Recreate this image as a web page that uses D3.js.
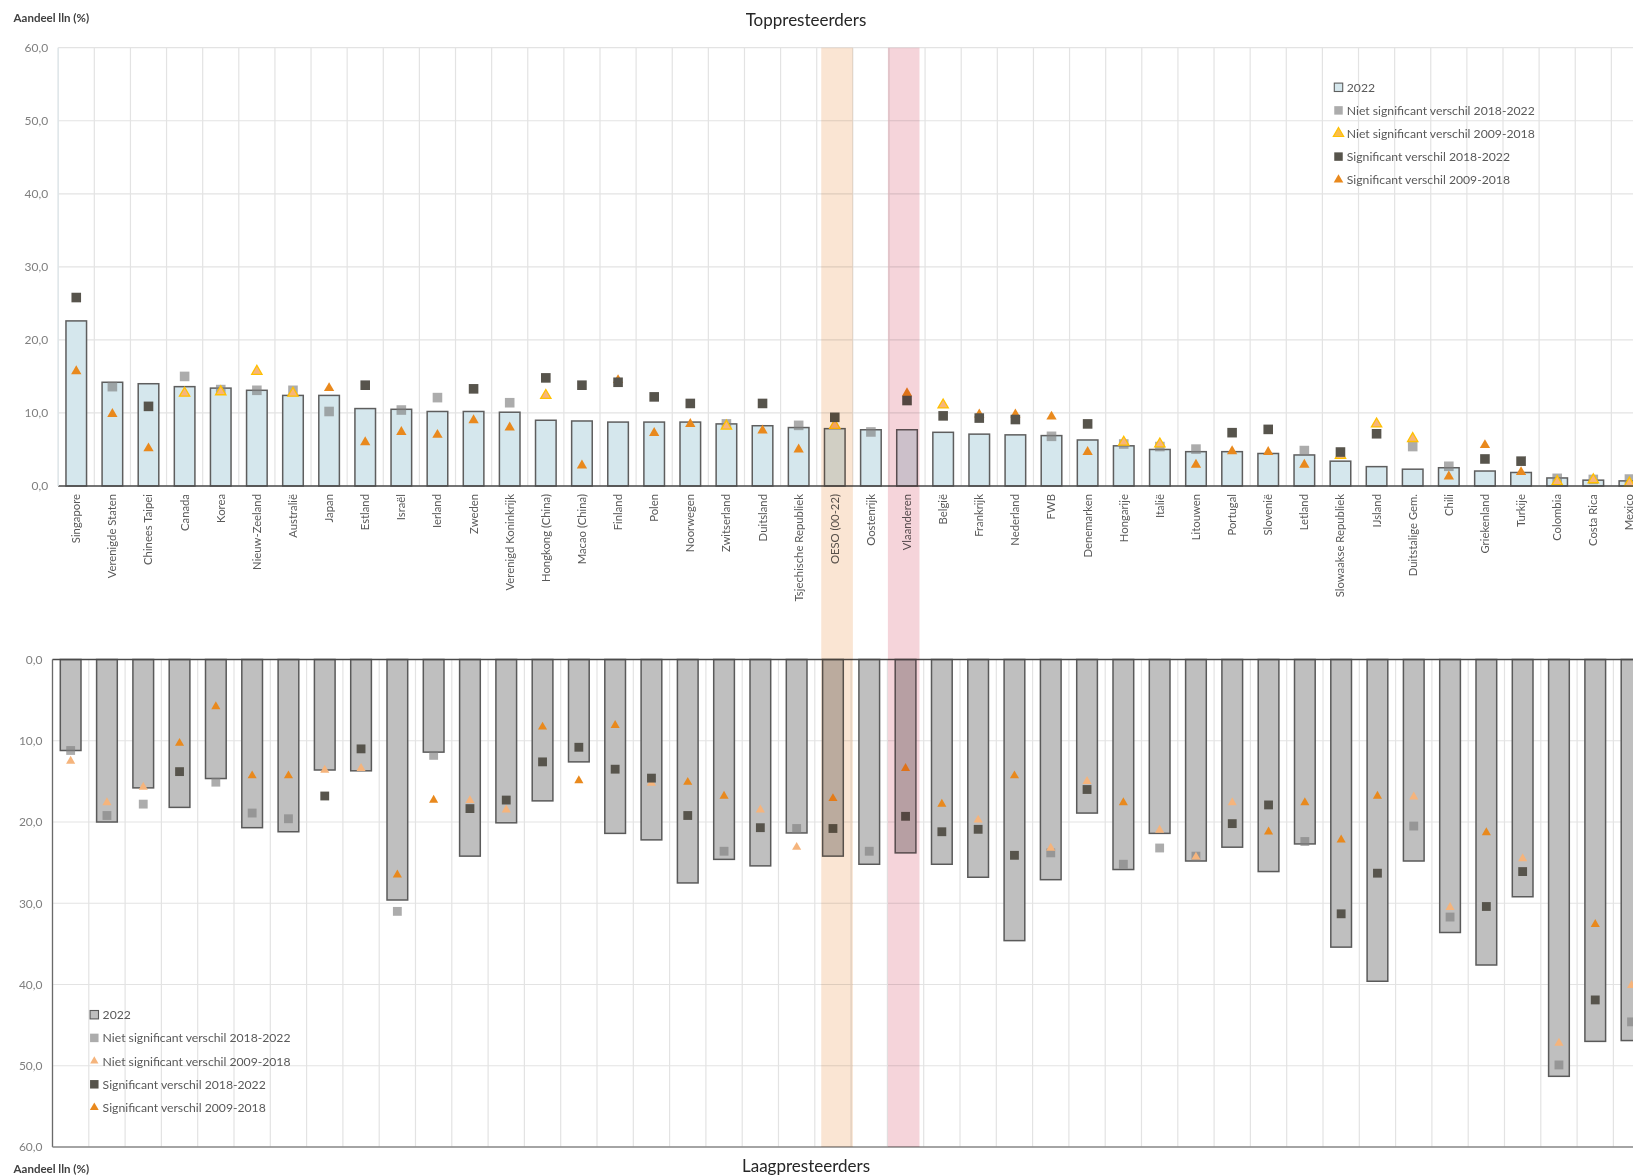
<!DOCTYPE html>
<html>
<head>
<meta charset="utf-8">
<script src="https://cdn.jsdelivr.net/npm/d3@7"></script>
<style>
  html, body { margin: 0; padding: 0; background: #fff; }
  svg { display: block; font-family: Lato, "Open Sans", sans-serif; }
</style>
</head>
<body>
<svg id="chart" width="1633" height="1176"></svg>
<script>
// ---------------- DATA ----------------
const categories = ["Singapore","Verenigde Staten","Chinees Taipei","Canada","Korea","Nieuw-Zeeland","Australië","Japan","Estland","Israël","Ierland","Zweden","Verenigd Koninkrijk","Hongkong (China)","Macao (China)","Finland","Polen","Noorwegen","Zwitserland","Duitsland","Tsjechische Republiek","OESO (00-22)","Oostenrijk","Vlaanderen","België","Frankrijk","Nederland","FWB","Denemarken","Hongarije","Italië","Litouwen","Portugal","Slovenië","Letland","Slowaakse Republiek","IJsland","Duitstalige Gem.","Chili","Griekenland","Turkije","Colombia","Costa Rica","Mexico"];

const highlighted = ["OESO (00-22)", "Vlaanderen"];
const yTicks = [0, 10, 20, 30, 40, 50, 60];

// Toppresteerders
const top2022     = [22.6,14.2,14.0,13.6,13.4,13.1,12.4,12.4,10.6,10.5,10.2,10.2,10.1,9.0,8.9,8.75,8.75,8.75,8.5,8.25,8.0,7.85,7.7,7.7,7.35,7.1,7.0,6.9,6.3,5.5,5.0,4.7,4.7,4.45,4.25,3.4,2.65,2.3,2.5,2.05,1.85,1.1,0.8,0.7];
const topNS1822   = [null,13.6,null,15.0,13.2,13.1,13.1,10.2,null,10.4,12.1,null,11.4,null,null,null,null,null,8.5,null,8.3,null,7.4,null,null,null,null,6.8,null,5.75,5.4,5.05,null,null,4.85,null,null,5.4,2.7,null,null,1.05,0.9,0.95];
const topNS0918   = [null,null,null,12.7,12.9,15.7,12.7,null,null,null,null,null,null,12.4,null,null,null,null,8.2,null,null,8.3,null,null,11.1,null,null,null,null,6.0,5.75,null,null,null,null,4.2,8.5,6.5,null,null,null,0.6,0.85,0.4];
const topS1822    = [25.8,null,10.9,null,null,null,null,null,13.8,null,null,13.3,null,14.8,13.8,14.2,12.2,11.3,null,11.3,null,9.4,null,11.7,9.6,9.3,9.1,null,8.5,null,null,null,7.3,7.75,null,4.65,7.15,null,null,3.7,3.4,null,null,null];
const topS0918    = [15.7,9.85,5.15,null,null,null,null,13.4,6.0,7.4,7.0,9.0,8.0,null,2.8,14.5,7.25,8.5,null,7.6,5.0,null,null,12.7,null,9.8,9.8,9.5,4.65,null,null,2.9,4.75,4.65,2.9,null,null,null,1.3,5.6,1.9,null,null,null];

// Laagpresteerders
const low2022     = [11.2,20.0,15.8,18.2,14.65,20.7,21.2,13.6,13.7,29.6,11.4,24.2,20.1,17.4,12.6,21.4,22.2,27.5,24.6,25.4,21.35,24.2,25.2,23.8,25.2,26.8,34.6,27.1,18.9,25.85,21.4,24.8,23.1,26.1,22.7,35.4,39.6,24.8,33.6,37.6,29.2,51.3,47.0,46.9];
const lowNS1822   = [11.2,19.2,17.8,null,15.1,18.9,19.6,null,null,31.0,11.8,null,null,null,null,null,null,null,23.6,null,20.8,null,23.6,null,null,null,null,23.8,null,25.2,23.2,24.2,null,null,22.4,null,null,20.5,31.7,null,null,49.9,null,44.6];
const lowNS0918   = [12.5,17.6,15.7,null,null,null,null,13.6,13.4,null,null,17.35,18.5,null,null,null,15.2,null,null,18.5,23.1,null,null,null,null,19.75,null,23.2,15.0,null,21.0,24.3,17.6,null,null,null,null,16.9,30.5,null,24.5,47.2,null,40.1];
const lowS1822    = [null,null,null,13.8,null,null,null,16.8,11.0,null,null,18.35,17.3,12.6,10.8,13.5,14.6,19.2,null,20.7,null,20.8,null,19.3,21.2,20.9,24.1,null,16.0,null,null,null,20.2,17.9,null,31.3,26.3,null,null,30.4,26.1,null,41.9,null];
const lowS0918    = [null,null,null,10.3,5.8,14.3,14.3,null,null,26.5,17.3,null,null,8.3,14.9,8.1,null,15.1,16.8,null,null,17.1,null,13.4,17.8,null,14.3,null,null,17.6,null,null,null,21.2,17.6,22.2,16.8,null,null,21.3,null,null,32.6,null];

const legendLabels = ["2022","Niet significant verschil 2018-2022","Niet significant verschil 2009-2018","Significant verschil 2018-2022","Significant verschil 2009-2018"];

// ---------------- STYLE ----------------
const C = {
  barTop: "#d5e7ed", barTopStroke: "#5e5e5e",
  barLow: "#bfbfbf", barLowStroke: "#5a5a5a",
  nsSq: "#7f7f7f", nsSqOp: 0.65,
  sSq: "#57544c",
  nsTriTopFill: "#f7b57a", nsTriTopStroke: "#ffc000",
  nsTriLow: "#f5b47c",
  sTri: "#e9891d",
  grid: "#e3e3e3",
  text: "#595959", tick: "#7f7f7f",
  bandOESO: "#fae5d3", bandVL: "#f5d4da"
};
const fmt = d => d3.format(".1f")(d).replace(".", ",");

const svg = d3.select("#chart");
svg.append("rect").attr("width", 1633).attr("height", 1176).attr("fill", "#fff");

const n = categories.length;
const topStep = 36.12, lowStep = 36.3;
const xT = d3.scaleBand().domain(categories).range([58.2, 58.2 + n * topStep]).paddingInner(0.43).paddingOuter(0.215);
const xB = d3.scaleBand().domain(categories).range([52.5, 52.5 + n * lowStep]).paddingInner(0.43).paddingOuter(0.215);
const yT = d3.scaleLinear().domain([0, 60]).range([486, 47.7]);
const yB = d3.scaleLinear().domain([0, 60]).range([659.5, 1147]);

function panel(opts) {
  const { x, y, bars, ns1822, ns0918, s1822, s0918, low } = opts;
  const g = svg.append("g");
  const x0 = x.range()[0], x1 = x.range()[1];
  const step = x.step();
  g.append("g").selectAll("line").data(yTicks).join("line")
    .attr("x1", x0).attr("x2", x1).attr("y1", d => y(d)).attr("y2", d => y(d))
    .attr("stroke", C.grid).attr("stroke-width", 1.2);
  const bounds = d3.range(n + 1).map(i => x0 + i * step);
  g.append("g").selectAll("line").data(bounds).join("line")
    .attr("x1", d => d).attr("x2", d => d).attr("y1", y(0)).attr("y2", y(60))
    .attr("stroke", C.grid).attr("stroke-width", 1.2);
  const ax = g.append("g").attr("transform", `translate(${x0},0)`)
    .call(d3.axisLeft(y).tickValues(yTicks).tickSize(0).tickPadding(10).tickFormat(fmt));
  ax.select(".domain").remove();
  ax.selectAll("text").attr("fill", C.tick).style("font-size", "12px").style("font-family", "Lato, sans-serif");

  g.append("g").selectAll("rect").data(categories).join("rect")
    .attr("x", d => x(d))
    .attr("width", x.bandwidth())
    .attr("y", (d, i) => Math.min(y(bars[i]), y(0)))
    .attr("height", (d, i) => Math.abs(y(bars[i]) - y(0)))
    .attr("fill", low ? C.barLow : C.barTop)
    .attr("stroke", low ? C.barLowStroke : C.barTopStroke)
    .attr("stroke-width", 1.5);

  const sqSize = low ? 78 : 92;
  const triSize = low ? 36 : 46;
  const sq = d3.symbol().type(d3.symbolSquare).size(sqSize);
  const tri = d3.symbol().type(d3.symbolTriangle).size(triSize);
  const cx = c => x(c) + x.bandwidth() / 2;
  function markers(vals, sym, attrs) {
    const data = categories.map((c, i) => ({ c, v: vals[i] })).filter(d => d.v != null);
    const sel = g.append("g").selectAll("path").data(data).join("path")
      .attr("d", sym)
      .attr("transform", d => `translate(${cx(d.c)},${y(d.v)})`);
    Object.entries(attrs).forEach(([k, v]) => sel.attr(k, v));
  }
  markers(ns1822, sq, { fill: C.nsSq, "fill-opacity": C.nsSqOp });
  if (low) markers(ns0918, tri, { fill: C.nsTriLow });
  else markers(ns0918, tri, { fill: C.nsTriTopFill, stroke: C.nsTriTopStroke, "stroke-width": 1.3 });
  markers(s0918, tri, { fill: C.sTri });
  markers(s1822, sq, { fill: C.sSq });

  g.append("line").attr("x1", x0).attr("x2", x1).attr("y1", y(0)).attr("y2", y(0))
    .attr("stroke", "#4a4a4a").attr("stroke-width", 1.5);
  if (low) {
    g.append("line").attr("x1", x0).attr("x2", x0).attr("y1", y(0)).attr("y2", y(60))
      .attr("stroke", "#6a6a6a").attr("stroke-width", 1.3);
    g.append("line").attr("x1", x0).attr("x2", x1).attr("y1", y(60)).attr("y2", y(60))
      .attr("stroke", "#8a8a8a").attr("stroke-width", 1.3);
  } else {
    g.append("line").attr("x1", x0).attr("x2", x0).attr("y1", y(0)).attr("y2", y(60))
      .attr("stroke", "#dde6ea").attr("stroke-width", 1.2);
  }
  return g;
}

panel({ x: xT, y: yT, bars: top2022, ns1822: topNS1822, ns0918: topNS0918, s1822: topS1822, s0918: topS0918, low: false });
panel({ x: xB, y: yB, bars: low2022, ns1822: lowNS1822, ns0918: lowNS0918, s1822: lowS1822, s0918: lowS0918, low: true });

// category labels (top chart)
svg.append("g").selectAll("text").data(categories).join("text")
  .attr("transform", d => `translate(${xT(d) + xT.bandwidth() / 2},494) rotate(-90)`)
  .attr("text-anchor", "end").attr("dy", "0.35em")
  .attr("fill", C.text).style("font-size", "11.3px")
  .text(d => d);

// titles
svg.append("text").attr("x", 806).attr("y", 25.5).attr("text-anchor", "middle")
  .attr("fill", "#262626").style("font-size", "17px").text("Toppresteerders");
svg.append("text").attr("x", 806).attr("y", 1172).attr("text-anchor", "middle")
  .attr("fill", "#262626").style("font-size", "17px").text("Laagpresteerders");
svg.append("text").attr("x", 13.6).attr("y", 22).attr("fill", "#404040")
  .style("font-size", "11.5px").style("font-weight", "bold").text("Aandeel lln (%)");
svg.append("text").attr("x", 13.6).attr("y", 1173).attr("fill", "#404040")
  .style("font-size", "11.5px").style("font-weight", "bold").text("Aandeel lln (%)");

// legends
function legend(x, y0, dy, low) {
  const g = svg.append("g");
  const sym = [
    g => g.append("rect").attr("x", -4.2).attr("y", -4.2).attr("width", 8.4).attr("height", 8.4)
          .attr("fill", low ? C.barLow : C.barTop).attr("stroke", low ? C.barLowStroke : C.barTopStroke).attr("stroke-width", 1.1),
    g => g.append("path").attr("d", d3.symbol().type(d3.symbolSquare).size(72)()).attr("fill", C.nsSq).attr("fill-opacity", C.nsSqOp),
    g => low
      ? g.append("path").attr("d", d3.symbol().type(d3.symbolTriangle).size(30)()).attr("fill", C.nsTriLow)
      : g.append("path").attr("d", d3.symbol().type(d3.symbolTriangle).size(46)()).attr("fill", "#fbbd4a").attr("stroke", C.nsTriTopStroke).attr("stroke-width", 1.2),
    g => g.append("path").attr("d", d3.symbol().type(d3.symbolSquare).size(72)()).attr("fill", C.sSq),
    g => g.append("path").attr("d", d3.symbol().type(d3.symbolTriangle).size(low ? 34 : 40)()).attr("fill", C.sTri)
  ];
  legendLabels.forEach((lab, i) => {
    const row = g.append("g").attr("transform", `translate(${x},${y0 + i * dy})`);
    sym[i](row);
    row.append("text").attr("x", 8.3).attr("dy", "0.36em").attr("fill", C.text)
      .style("font-size", "12.2px").text(lab);
  });
}
legend(1338.5, 87.3, 23.1, false);
legend(94.3, 1014.7, 23.2, true);

// highlight bands (multiply over everything)
const bandNudge = [3.2, -2.6];
const bands = svg.append("g");
highlighted.forEach((c, i) => {
  const cxT = xT(c) + xT.bandwidth() / 2, cxB = xB(c) + xB.bandwidth() / 2;
  const cx = (cxT + cxB) / 2 + bandNudge[i];
  const w = xT.step() * 0.875;
  bands.append("rect").attr("x", cx - w / 2).attr("width", w)
    .attr("y", yT(60)).attr("height", yB(60) - yT(60))
    .attr("fill", i === 0 ? C.bandOESO : C.bandVL)
    .style("mix-blend-mode", "multiply");
});
</script>
</body>
</html>
